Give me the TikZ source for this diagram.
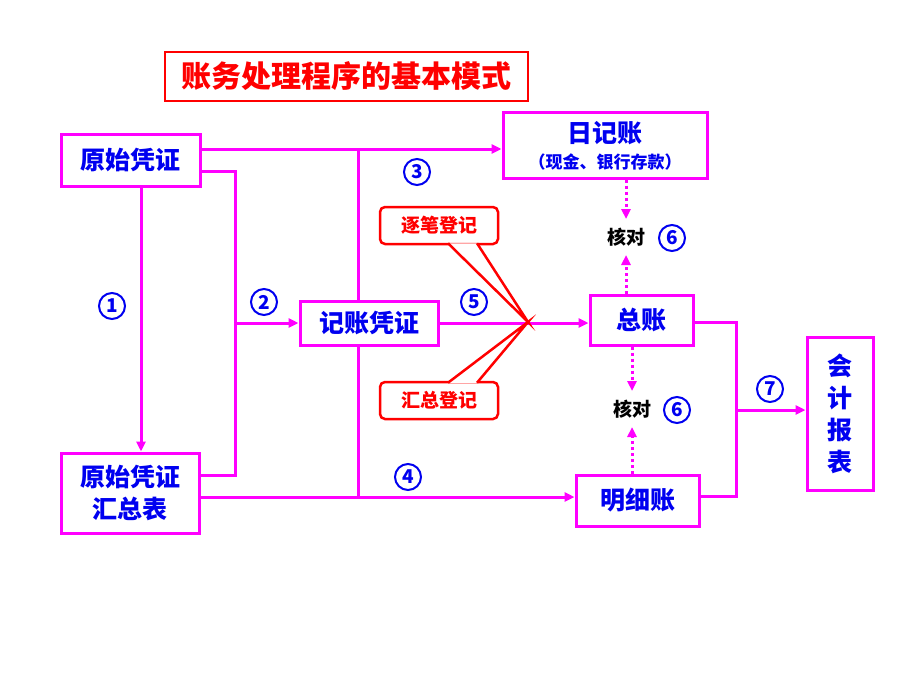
\documentclass[tikz,border=0pt]{standalone}
\usepackage{fontspec}
\setmainfont{Noto Sans CJK SC}
\usetikzlibrary{arrows.meta}

\definecolor{lineMag}{RGB}{255,0,255}
\definecolor{txtBlue}{RGB}{0,0,240}
\definecolor{noteRed}{RGB}{255,0,0}
\def\tipsize{length=10pt,width=9pt}

\begin{document}
\begin{tikzpicture}[x=1pt,y=-1pt,line width=3pt]
        \tikzstyle{acct}=[draw=lineMag, line width=3pt, fill=white, text=txtBlue, font=\bfseries\fontsize{25}{32}\selectfont, inner sep=0pt, align=center]
        \tikzstyle{flow}=[draw=lineMag, line width=3pt]
        \tikzstyle{flow arrow}=[flow, -{Triangle[\tipsize]}]
        \tikzstyle{check}=[draw=lineMag, line width=3pt, dash pattern=on 3pt off 3pt, -{Triangle[\tipsize]}]
        \tikzstyle{step num}=[circle, draw=txtBlue, line width=2pt, minimum size=26pt, inner sep=0pt, text=txtBlue, font=\bfseries\fontsize{19}{19}\selectfont]
        \tikzstyle{note}=[draw=noteRed, line width=2.5pt, rounded corners=5pt, fill=white, text=noteRed, font=\bfseries\fontsize{19}{19}\selectfont, minimum width=118pt, minimum height=37pt, inner sep=0pt]
        \tikzstyle{check text}=[font=\bfseries\fontsize{19}{19}\selectfont, inner sep=0pt, minimum height=33pt]

        \fill[white] (0,0) rectangle (920,690);
        \useasboundingbox (0,0) rectangle (920,690);

        % Draw the title
        \node[draw=noteRed, line width=2.5pt, text=noteRed, font=\bfseries\fontsize{30}{30}\selectfont,
              minimum width=363pt, minimum height=49pt, inner sep=0pt] (title) at (346.5,76.5) {账务处理程序的基本模式};

        % Draw the account boxes
        \node[acct, minimum width=139pt, minimum height=52pt] (yszz) at (130.5,160) {原始凭证};
        \node[acct, minimum width=138pt, minimum height=80pt] (hzb) at (130,493) {原始凭证\\汇总表};
        \node[acct, minimum width=138pt, minimum height=44pt] (jzpz) at (369,323) {记账凭证};
        \node[acct, minimum width=204pt, minimum height=65pt] (rjz) at (605,145.5)
            {日记账\\[-6pt]{\fontsize{17}{20}\selectfont （现金、银行存款）}};
        \node[acct, minimum width=103pt, minimum height=50pt] (zz) at (641.5,320) {总账};
        \node[acct, minimum width=123pt, minimum height=51pt] (mxz) at (637.5,500.5) {明细账};
        \node[acct, minimum width=66pt, minimum height=153pt] (kjbb) at (840,413.5) {会\\计\\报\\表};

        % Lines out of the source documents
        \coordinate (s-top) at ([yshift=11pt]yszz.east);
        \coordinate (s-low) at ([yshift=-11pt]yszz.east);
        \coordinate (fork-a) at (235,323);
        \coordinate (fork-b) at (358,497);
        \coordinate (h-low) at ([yshift=-4pt]hzb.east);
        \draw[flow arrow] (s-top) -- (s-top -| rjz.west);
        \draw[flow arrow] (yszz.south -| 141,0) -- (hzb.north -| 141,0);
        \draw[flow] (s-low) -| (fork-a) |- ([yshift=18pt]hzb.east);
        \draw[flow arrow] (fork-a) -- (jzpz.west);
        \draw[flow] (fork-b |- s-top) -- (fork-b |- jzpz.north);
        \draw[flow] (fork-b |- jzpz.south) -- (fork-b);
        \draw[flow arrow] (h-low) -- (h-low -| mxz.west);

        % Posting to the general ledger
        \draw[flow arrow] (jzpz.east) -- (jzpz.east -| zz.west);

        % Ledgers to the reports
        \coordinate (fork-c) at (736,410);
        \draw[flow] ([yshift=-2pt]zz.east) -| (fork-c) |- ([yshift=4.5pt]mxz.east);
        \draw[flow arrow] (fork-c) -- (fork-c -| kjbb.west);

        % Checking between the ledgers
        \node[check text] (kd-up) at (626,237) {核对};
        \node[check text] (kd-low) at (632,409) {核对};
        \draw[check] (rjz.south -| kd-up) -- (kd-up.north);
        \draw[check] (zz.north -| kd-up) -- (kd-up.south);
        \draw[check] (zz.south -| kd-low) -- (kd-low.north);
        \draw[check] (mxz.north -| kd-low) -- (kd-low.south);

        % Callouts for the posting methods
        \coordinate (meet) at (528,322);
        \node[note] (zbdj) at (439,225.5) {逐笔登记};
        \node[note] (hzdj) at (439,400.5) {汇总登记};
        \draw[draw=noteRed, line width=2.5pt, fill=white] ([xshift=9pt,yshift=2pt]zbdj.south) -- (meet) -- ([xshift=38pt,yshift=2pt]zbdj.south);
        \draw[draw=noteRed, line width=2.5pt, fill=white] ([xshift=9pt,yshift=-2pt]hzdj.north) -- (meet) -- ([xshift=38pt,yshift=-2pt]hzdj.north);

        % Number the steps
        \foreach \name/\px/\py/\t in {n1/112/306/1, n2/264/302/2, n3/417/172/3, n4/408/477/4,
                                      n5/474/302/5, n6a/672/238/6, n6b/677/410/6, n7/770/389/7}
            \node[step num] (\name) at (\px,\py) {\t};
\end{tikzpicture}
\end{document}
